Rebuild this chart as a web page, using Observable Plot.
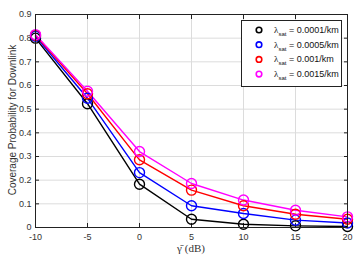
<!DOCTYPE html>
<html><head><meta charset="utf-8">
<script src="https://cdn.jsdelivr.net/npm/d3@7"></script>
<script src="https://cdn.jsdelivr.net/npm/@observablehq/plot@0.6"></script>
<style>body{margin:0;background:#fff}</style>
</head><body><div id="chart"></div>
<script>
const snr = [-10, -5, 0, 5, 10, 15, 20];
const seriesLabels = ["0.0001/km", "0.0005/km", "0.001/km", "0.0015/km"];
const seriesColors = ["#000000", "#0000ff", "#ff0000", "#ff00ff"];
const cov0001 = [0.800, 0.523, 0.183, 0.035, 0.014, 0.007, 0.004];
const cov0005 = [0.808, 0.546, 0.232, 0.092, 0.059, 0.031, 0.019];
const cov001  = [0.812, 0.565, 0.286, 0.158, 0.092, 0.056, 0.035];
const cov0015 = [0.815, 0.576, 0.321, 0.186, 0.116, 0.073, 0.045];
const xTicks = [-10, -5, 0, 5, 10, 15, 20];
const yTicks = [0, 0.1, 0.2, 0.3, 0.4, 0.5, 0.6, 0.7, 0.8, 0.9];
const xLabel = "\u03B3\u0304 (dB)";
const yLabel = "Coverage Probability for Downlink";

const allSeries = [cov0001, cov0005, cov001, cov0015];
const data = [];
allSeries.forEach((vals, s) => vals.forEach((v, i) => data.push({x: snr[i], y: v, s: seriesLabels[s]})));

const chart = Plot.plot({
  width: 355, height: 255,
  marginLeft: 35, marginRight: 8, marginTop: 14, marginBottom: 28,
  style: {fontFamily: "Liberation Sans, Arial, sans-serif", fontSize: "9px", background: "#fff"},
  x: {domain: [-10, 20]},
  y: {domain: [0, 0.9]},
  color: {domain: seriesLabels, range: seriesColors},
  marks: [
    Plot.gridX(xTicks, {stroke: "#dcdcdc", strokeOpacity: 1}),
    Plot.gridY(yTicks, {stroke: "#dcdcdc", strokeOpacity: 1}),
    Plot.axisX(xTicks, {tickSize: -4, tickPadding: 10, tickFormat: d => String(d), label: null, fill: "#333", stroke: "#222"}),
    Plot.axisX(xTicks, {anchor: "top", tickSize: -4, text: null, label: null, stroke: "#222"}),
    Plot.axisY(yTicks, {tickSize: -4, tickPadding: 8, tickFormat: d => String(+d.toFixed(1)), label: null, fill: "#333", stroke: "#222"}),
    Plot.axisY(yTicks, {anchor: "right", tickSize: -4, text: null, label: null, stroke: "#222"}),
    Plot.line(data, {x: "x", y: "y", z: "s", stroke: "s", strokeWidth: 1.4}),
    Plot.dot(data, {x: "x", y: "y", stroke: "s", r: 5, strokeWidth: 1.4, fill: "none"}),
    Plot.frame({stroke: "#222", strokeWidth: 1})
  ]
});
document.getElementById("chart").appendChild(chart);

const svg = d3.select(chart);
// axis titles
svg.append("text").attr("transform", "translate(12,120) rotate(-90)")
  .attr("text-anchor", "middle").attr("dominant-baseline", "central")
  .style("font-family", "Liberation Sans, Arial, sans-serif").style("font-size", "10px").attr("fill", "#333")
  .text(yLabel);
svg.append("text").attr("x", 191).attr("y", 248)
  .attr("text-anchor", "middle").attr("dominant-baseline", "central")
  .style("font-family", "Liberation Serif, Times New Roman, serif").style("font-size", "11px").attr("fill", "#333")
  .text(xLabel);
// legend
const lg = svg.append("g").attr("text-anchor", "start");
lg.append("rect").attr("x", 241.5).attr("y", 20.5).attr("width", 100).attr("height", 66)
  .attr("fill", "#fff").attr("stroke", "#222").attr("stroke-width", 1);
seriesLabels.forEach((lab, i) => {
  const cy = 30 + i * 14.7;
  lg.append("circle").attr("cx", 259).attr("cy", cy).attr("r", 2.8)
    .attr("fill", "none").attr("stroke", seriesColors[i]).attr("stroke-width", 1.6);
  const t = lg.append("text").attr("x", 274).attr("y", cy + 3).attr("text-anchor", "start")
    .style("font-family", "Liberation Sans, Arial, sans-serif").style("font-size", "9px").attr("fill", "#111");
  t.append("tspan").style("font-family", "Liberation Serif, serif").text("\u03BB");
  t.append("tspan").attr("dy", 3).style("font-size", "6px").text("sat");
  t.append("tspan").attr("dy", -3).text(" = " + lab);
});
</script></body></html>
